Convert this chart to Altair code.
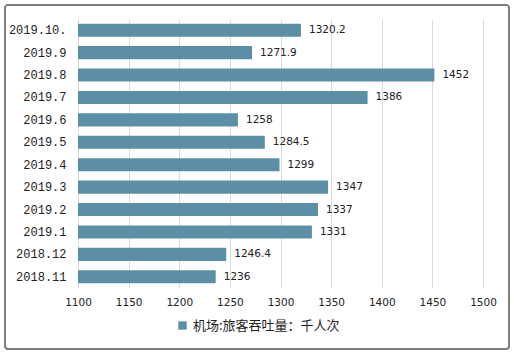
import altair as alt
import pandas as pd

months = ["2019.10.", "2019.9", "2019.8", "2019.7", "2019.6", "2019.5",
          "2019.4", "2019.3", "2019.2", "2019.1", "2018.12", "2018.11"]
values = [1320.2, 1271.9, 1452, 1386, 1258, 1284.5, 1299, 1347, 1337, 1331, 1246.4, 1236]
labels = ["1320.2", "1271.9", "1452", "1386", "1258", "1284.5", "1299", "1347", "1337", "1331", "1246.4", "1236"]
series_name = "机场:旅客吞吐量：千人次"
x_ticks = [1100, 1150, 1200, 1250, 1300, 1350, 1400, 1450, 1500]

df = pd.DataFrame({"month": months, "value": values, "label": labels, "series": series_name})

BAR = "#5B8FA5"

y_enc = alt.Y("month:N", sort=months, title=None,
              scale=alt.Scale(paddingInner=0.42, paddingOuter=0.21),
              axis=alt.Axis(ticks=False, domain=False, labelPadding=12,
                            labelFont="Liberation Mono", labelFontSize=12,
                            labelFontWeight="normal",
                            labelColor="#222222"))

x_enc = alt.X("value:Q", title=None,
              scale=alt.Scale(domain=[1100, 1500], zero=False, nice=False),
              axis=alt.Axis(values=x_ticks, ticks=False, domain=False, grid=True,
                            gridColor="#d9d9d9", labelPadding=9, labelFlush=False,
                            labelFont="DejaVu Sans", labelFontSize=10.5,
                            labelColor="#222222", format="d"))

bars = alt.Chart(df).mark_bar(color=BAR).encode(
    y=y_enc,
    x=x_enc,
    x2=alt.datum(1100),
    color=alt.Color("series:N", scale=alt.Scale(range=[BAR]),
                    legend=alt.Legend(title=None, orient="none", legendX=98, legendY=300,
                                      symbolType="square", symbolSize=70,
                                      labelFont="Noto Sans CJK SC", labelFontSize=13,
                                      labelColor="#222222", symbolStrokeWidth=0)),
)

text = alt.Chart(df).mark_text(align="left", dx=8, font="DejaVu Sans",
                               fontSize=10.5, color="#222222").encode(
    y=alt.Y("month:N", sort=months),
    x=alt.X("value:Q"),
    text="label:N",
)

border = alt.Chart(df).mark_rect(filled=False, stroke="#7f7f7f", strokeWidth=1.2,
                                 cornerRadius=3, clip=False).encode(
    x=alt.value(5 - 78), x2=alt.value(509 - 78),
    y=alt.value(5 - 19), y2=alt.value(349 - 19),
)

chart = alt.layer(bars, text, border).properties(
    width=405, height=269,
    autosize=alt.AutoSizeParams(type="none"),
    padding={"left": 78, "top": 19, "right": 31, "bottom": 66},
    background="white",
).configure_view(stroke=None)

chart.save("out.html", embed_options={"renderer": "svg", "actions": False})
